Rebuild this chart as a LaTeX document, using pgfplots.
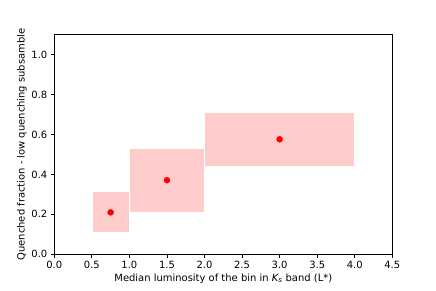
\documentclass[border=0pt]{standalone}
\usepackage{fontspec}
\setmainfont{DejaVu Sans}
\usepackage{pgfplots}
\pgfplotsset{compat=1.18}

\begin{document}
\begin{tikzpicture}
\useasboundingbox (0,0) rectangle (436bp,291bp);
\begin{axis}[
  at={(54.3bp,36.7bp)}, anchor=south west,
  scale only axis,
  width=338bp, height=219.6bp,
  xmin=0, xmax=4.5,
  ymin=0, ymax=1.1,
  xtick={0,0.5,...,4.5},
  ytick={0,0.2,...,1.0},
  xticklabel style={/pgf/number format/.cd, fixed, fixed zerofill, precision=1},
  yticklabel style={/pgf/number format/.cd, fixed, fixed zerofill, precision=1},
  /pgf/number format/assume math mode=true,
  tick align=outside,
  tick pos=left,
  major tick length=3.5bp,
  tick style={black, line width=0.8bp},
  axis line style={line width=0.8bp},
  tick label style={font=\fontsize{10}{12}\selectfont},
  label style={font=\fontsize{10}{12}\selectfont},
  xlabel={Median luminosity of the bin in \textit{K\textsubscript{s}} band (L*)},
  ylabel={Quenched fraction - low quenching subsamble},
  xlabel style={yshift=2bp},
  ylabel style={yshift=-2bp},
]
% error boxes
\addplot[fill=red!20, draw=white, line width=0.5bp] coordinates {(0.5,0.108) (1.0,0.108) (1.0,0.314) (0.5,0.314)} -- cycle;
\addplot[fill=red!20, draw=white, line width=0.5bp] coordinates {(1.0,0.210) (2.0,0.210) (2.0,0.531) (1.0,0.531)} -- cycle;
\addplot[fill=red!20, draw=white, line width=0.5bp] coordinates {(2.0,0.439) (4.0,0.439) (4.0,0.713) (2.0,0.713)} -- cycle;
% medians
\addplot[only marks, mark=*, mark size=3bp, color=red] coordinates {
  (0.75,0.210)
  (1.5,0.371)
  (3.0,0.576)
};
\end{axis}
\end{tikzpicture}
\end{document}
